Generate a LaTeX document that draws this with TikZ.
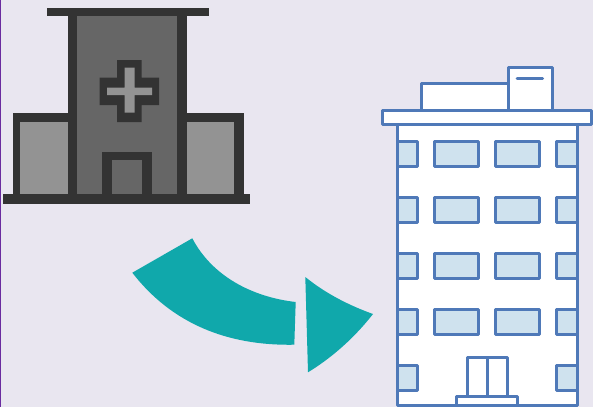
\documentclass[tikz,border=0pt]{standalone}
\definecolor{bgc}{HTML}{E9E6F0}
\definecolor{dk}{HTML}{333333}
\definecolor{md}{HTML}{666666}
\definecolor{lt}{HTML}{939393}
\definecolor{teal2}{HTML}{10A8AB}
\definecolor{blu}{HTML}{4F79B8}
\definecolor{win}{HTML}{CFE2EE}
\definecolor{edgep}{HTML}{6A2CA0}
\tikzset{
  dark/.style={fill=dk,draw=none},
  mid/.style={fill=md,draw=none},
  light/.style={fill=lt,draw=none},
  arrowpart/.style={fill=teal2,draw=none},
  wall/.style={fill=white,draw=blu,line width=3pt,line join=round},
  pane/.style={fill=win,draw=blu,line width=3pt,line join=round}
}
\begin{document}
\begin{tikzpicture}[x=1pt,y=-1pt]
\useasboundingbox (0,0) rectangle (593,407);
\fill[bgc] (0,0) rectangle (593,407);
\fill[edgep] (0,0) rectangle (1.2,407);
% hospital
\path[dark] (47,8) rectangle (209,15.5);
\path[dark] (12.5,112.5) rectangle (243.5,195);
\path[light] (20,122) rectangle (67.5,194);
\path[light] (186.5,122) rectangle (234,194);
\path[dark] (67.5,15) rectangle (186.5,195);
\path[mid] (77,15.5) rectangle (176.5,194);
\path[dark] (3,194) rectangle (250,204);
\path[dark] (102,152) rectangle (151.5,194);
\path[mid] (112,159.5) rectangle (142,194);
\path[dark] (117,60) -- (141.5,60) -- (141.5,77.5) -- (159,77.5) -- (159,105) -- (141.5,105) -- (141.5,122) -- (117,122) -- (117,105) -- (99.5,105) -- (99.5,77.5) -- (117,77.5) -- cycle;
\path[light] (124.5,67.5) -- (134.5,67.5) -- (134.5,87.5) -- (152,87.5) -- (152,95) -- (134.5,95) -- (134.5,112.5) -- (124.5,112.5) -- (124.5,95) -- (107,95) -- (107,87.5) -- (124.5,87.5) -- cycle;
% arrow
\path[arrowpart] (192.3,238.3) .. controls (212,276) and (252,297) .. (295.7,302) -- (294.3,344.7) .. controls (228,346) and (172,324) .. (132.3,272.7) -- cycle;
\path[arrowpart] (305.3,277) .. controls (325,293) and (348,305) .. (373,314) .. controls (355,337) and (333,357) .. (308,372.3) -- cycle;
% office
\draw[wall] (421.7,110.5) rectangle (508.3,83.3);
\draw[wall] (508.3,110.5) rectangle (552.3,67);
\draw[blu,line width=3pt,line cap=round] (517,78) -- (542.5,78);
\draw[wall] (397,124) rectangle (577,405.8);
\draw[wall] (382,110.3) rectangle (591.5,124.3);
\foreach \y in {141,197,253.3,309.3}{
  \draw[pane] (397,\y) rectangle (417.7,\y+25);
  \draw[pane] (434.7,\y) rectangle (478.7,\y+25);
  \draw[pane] (495.7,\y) rectangle (539.3,\y+25);
  \draw[pane] (556.7,\y) rectangle (577,\y+25);
}
\draw[pane] (397,365.7) rectangle (417.7,390.7);
\draw[pane] (556.7,365.7) rectangle (577,390.7);
\draw[wall] (467,357.7) rectangle (487.3,396);
\draw[wall] (487.3,357.7) rectangle (507.7,396);
\draw[wall] (456,396) rectangle (517.5,405.8);
\end{tikzpicture}
\end{document}
